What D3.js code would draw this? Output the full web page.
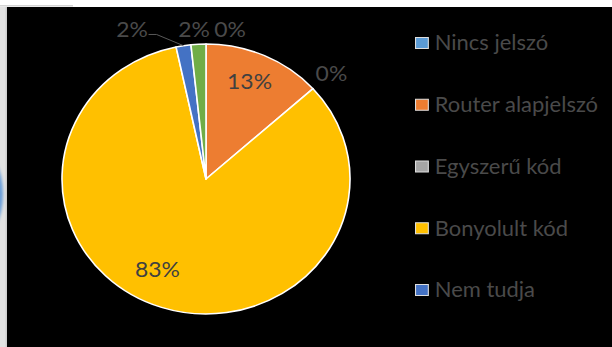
<!DOCTYPE html>
<html>
<head>
<meta charset="utf-8">
<script src="https://cdn.jsdelivr.net/npm/d3@7"></script>
<style>
  html, body { margin: 0; padding: 0; background: #ffffff; }
  svg { display: block; }
  text { font-family: Lato, "Open Sans", sans-serif; }
</style>
</head>
<body>
<svg id="chart" width="612" height="347"></svg>
<script>
// Password types used on home routers (share of answers)
const categories = ["Nincs jelszó", "Router alapjelszó", "Egyszerű kód", "Bonyolult kód", "Nem tudja", "Egyéb"];
const counts     = [0, 8, 0, 50, 1, 1];
const colors     = ["#5B9BD5", "#ED7D31", "#A5A5A5", "#FFC000", "#4472C4", "#70AD47"];
const legendItems = ["Nincs jelszó", "Router alapjelszó", "Egyszerű kód", "Bonyolult kód", "Nem tudja"];

const W = 612, H = 347;
const sx = 1.0667;               // slight horizontal stretch of the whole panel
const R = 135;
const cx = 206, cy = 179;

const data = categories.map((c, i) => ({ name: c, value: counts[i], color: colors[i] }));
const total = d3.sum(counts);
const pctText = v => Math.round(v / total * 100) + "%";

const svg = d3.select("#chart");

// page frame around the panel
svg.append("rect").attr("x", 0).attr("y", 0).attr("width", W).attr("height", H).attr("fill", "#ffffff");
svg.append("rect").attr("x", 0).attr("y", 5).attr("width", 73).attr("height", 1.5).attr("fill", "#d4d4d4");
const defs = svg.append("defs");
defs.append("clipPath").attr("id", "stripClip")
  .append("rect").attr("x", 0).attr("y", 7).attr("width", 7).attr("height", H - 7);
defs.append("filter").attr("id", "soft").attr("x", "-50%").attr("y", "-50%").attr("width", "200%").attr("height", "200%")
  .append("feGaussianBlur").attr("stdDeviation", 1.6);
const strip = svg.append("g").attr("clip-path", "url(#stripClip)");
strip.append("rect").attr("x", 0).attr("y", 7).attr("width", 7).attr("height", H - 7).attr("fill", "#e2e2e2");
strip.append("ellipse").attr("cx", -22).attr("cy", 194).attr("rx", 25).attr("ry", 46)
  .attr("fill", "#6a9fd9").attr("filter", "url(#soft)");
strip.append("rect").attr("x", 5.5).attr("y", 7).attr("width", 1.5).attr("height", H - 7).attr("fill", "#cfcfcf");

// black chart panel
svg.append("rect").attr("x", 7).attr("y", 7).attr("width", W - 7).attr("height", H - 7).attr("fill", "#000000");

// pie
const pie = d3.pie().sort(null).value(d => d.value);
const arcs = pie(data);
const arc = d3.arc().innerRadius(0).outerRadius(R);

const g = svg.append("g").attr("transform", `translate(${cx},${cy}) scale(${sx},1)`);

g.selectAll("path.slice")
  .data(arcs.filter(d => d.value > 0))
  .join("path")
  .attr("class", "slice")
  .attr("d", arc)
  .attr("fill", d => d.data.color)
  .attr("stroke", "#ffffff")
  .attr("stroke-width", 1.5)
  .attr("stroke-linejoin", "round");

// data labels: big slices inside, small ones outside the rim
const labelFont = 21.5;
const gapOut = 8, halfW = 14.5, halfH = 6.7;
const nudge = {
  "Nincs jelszó":      [22.5, 0],
  "Egyéb":             [-3.4, 0.5],
  "Nem tudja":         [-45.6, 0.5],
  "Router alapjelszó": [-3.1, 1.2],
  "Bonyolult kód":     [-12.1, -12.7]
};

const labels = arcs.map(d => {
  const mid = (d.startAngle + d.endAngle) / 2;
  const share = d.value / total;
  const inside = share >= 0.1;
  const dist = inside
    ? R * 0.8
    : R + gapOut + Math.abs(Math.sin(mid)) * halfW + Math.abs(Math.cos(mid)) * halfH;
  const n = nudge[d.data.name] || [0, 0];
  const bx = Math.sin(mid) * dist, by = -Math.cos(mid) * dist;
  // a leader is drawn only when the label sits well away from a non-empty slice
  return {
    d, mid, inside,
    x: bx + n[0], y: by + n[1],
    leader: d.value > 0 && Math.hypot(n[0], n[1]) > 30
  };
});

// leader lines for labels pushed away from their slice
g.selectAll("path.leader")
  .data(labels.filter(l => l.leader))
  .join("path")
  .attr("class", "leader")
  .attr("fill", "none")
  .attr("stroke", "#595959")
  .attr("stroke-width", 1)
  .attr("vector-effect", "non-scaling-stroke")
  .attr("d", l => {
    const x0 = l.x + halfW + 1, y0 = l.y + 5;
    const x1 = x0 + 7.5;
    const ex = Math.sin(l.mid) * R, ey = -Math.cos(l.mid) * R;
    return `M${x0},${y0}L${x1},${y0}L${ex},${ey}`;
  });

g.selectAll("text.dlabel")
  .data(labels)
  .join("text")
  .attr("class", "dlabel")
  .attr("x", l => l.x)
  .attr("y", l => l.y)
  .attr("dy", "0.36em")
  .attr("text-anchor", "middle")
  .attr("font-size", labelFont)
  .attr("fill", l => l.inside ? "#404040" : "#4a4a4a")
  .text(l => pctText(l.d.value));

// legend
const legendY = d3.scalePoint().domain(legendItems).range([43, 290]);
const lg = svg.append("g").attr("transform", `translate(415,0) scale(${sx},1)`);
const rows = lg.selectAll("g.row")
  .data(legendItems)
  .join("g")
  .attr("class", "row")
  .attr("transform", d => `translate(0,${legendY(d)})`);
rows.append("rect")
  .attr("x", 0.5).attr("y", -5.5)
  .attr("width", 12).attr("height", 11)
  .attr("fill", d => colors[categories.indexOf(d)])
  .attr("stroke", "#dedede")
  .attr("stroke-width", 1);
rows.append("text")
  .attr("x", 18.5)
  .attr("dy", "0.36em")
  .attr("font-size", 20.6)
  .attr("fill", "#4a4a4a")
  .text(d => d);
</script>
</body>
</html>
